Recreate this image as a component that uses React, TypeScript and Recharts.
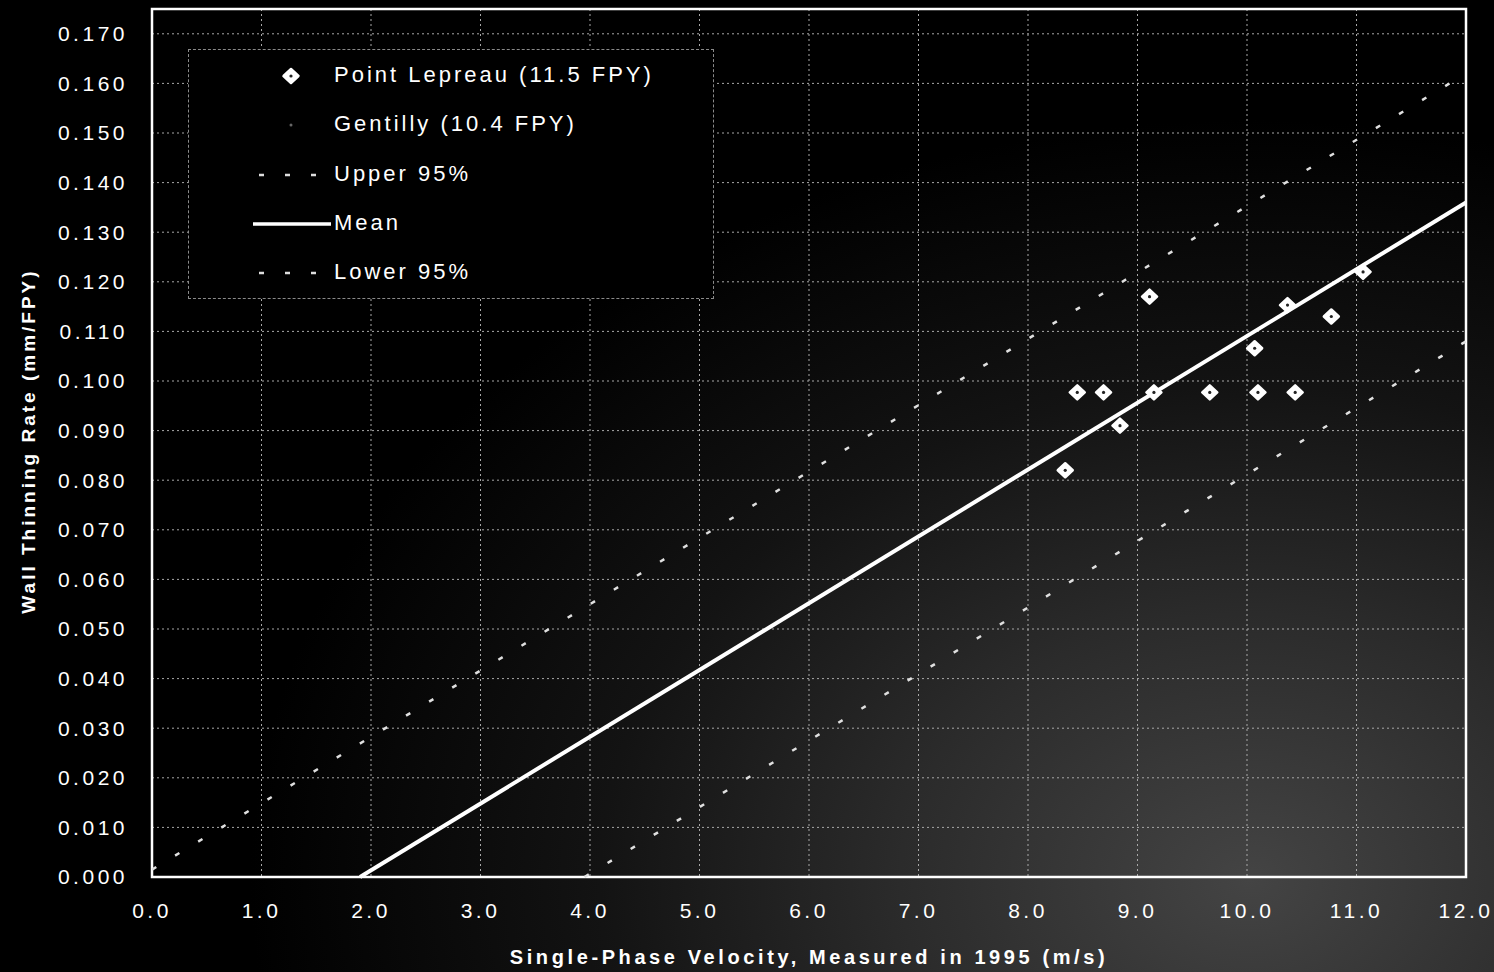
import React from "react";
import { CartesianGrid, Legend, ReferenceArea, Scatter, ScatterChart, XAxis, YAxis } from "recharts";

// tick labels
const xTicks = [0, 1, 2, 3, 4, 5, 6, 7, 8, 9, 10, 11, 12];
const yTicks = [0, 0.01, 0.02, 0.03, 0.04, 0.05, 0.06, 0.07, 0.08, 0.09, 0.1, 0.11, 0.12, 0.13, 0.14, 0.15, 0.16, 0.17];

// Point Lepreau measurements (velocity m/s, thinning mm/FPY)
const lepreauX = [8.34, 8.45, 8.69, 8.84, 9.11, 9.15, 9.66, 10.07, 10.1, 10.37, 10.44, 10.77, 11.06];
const lepreauY = [0.082, 0.0977, 0.0977, 0.091, 0.117, 0.0977, 0.0977, 0.1066, 0.0977, 0.1153, 0.0977, 0.113, 0.122];

// Gentilly: nothing readable in the plot
const gentillyX: number[] = [];
const gentillyY: number[] = [];

// fitted lines
const meanX = [1.9, 12.0];
const meanY = [0, 0.136];
const upperX = [0, 12.0];
const upperY = [0.0015, 0.162];
const lowerX = [3.95, 12.0];
const lowerY = [0, 0.108];

const zip = (xs: number[], ys: number[]) => xs.map((x, i) => ({ x, y: ys[i] }));

const lepreau = zip(lepreauX, lepreauY);
const gentilly = zip(gentillyX, gentillyY);
const mean = zip(meanX, meanY);
const upper = zip(upperX, upperY);
const lower = zip(lowerX, lowerY);

const FONT = "Arial, 'Liberation Sans', sans-serif";

function Diamond(props: any) {
  const { cx, cy } = props;
  if (cx == null || cy == null) return <g />;
  return (
    <g>
      <path
        d={`M${cx},${cy - 7} L${cx + 7.5},${cy} L${cx},${cy + 7} L${cx - 7.5},${cy} Z`}
        fill="#fff"
        stroke="#fff"
        strokeWidth={2.5}
        strokeLinejoin="round"
      />
      <circle cx={cx} cy={cy} r={1.6} fill="#222" />
    </g>
  );
}

function Nothing() {
  return <g />;
}

function LegendBox() {
  const row = (top: number, marker: React.ReactNode, text: string) => (
    <div style={{ position: "absolute", left: 0, top: top - 20, height: 40, width: "100%" }}>
      <svg width={145} height={40} style={{ position: "absolute", left: 0, top: 0 }}>
        {marker}
      </svg>
      <span style={{ position: "absolute", left: 145, top: 6, whiteSpace: "nowrap" }}>{text}</span>
    </div>
  );
  return (
    <div
      style={{
        width: 526,
        height: 250,
        background: "#000",
        border: "1px dashed #8a8a8a",
        boxSizing: "border-box",
        position: "relative",
        fontFamily: FONT,
        fontSize: 22,
        letterSpacing: 3,
        color: "#fff",
        lineHeight: "26px",
      }}
    >
      {row(26, <Diamond cx={102} cy={20} />, "Point Lepreau (11.5 FPY)")}
      {row(75, <circle cx={102} cy={20} r={1.5} fill="#666" />, "Gentilly (10.4 FPY)")}
      {row(
        125,
        <line x1={70} y1={20} x2={132} y2={20} stroke="#ddd" strokeWidth={2.5} strokeDasharray="5 21" />,
        "Upper 95%"
      )}
      {row(174, <line x1={64} y1={20} x2={142} y2={20} stroke="#fff" strokeWidth={3.5} />, "Mean")}
      {row(
        223,
        <line x1={70} y1={20} x2={132} y2={20} stroke="#ddd" strokeWidth={2.5} strokeDasharray="5 21" />,
        "Lower 95%"
      )}
    </div>
  );
}

export default function App() {
  return (
    <div
      style={{
        width: 1494,
        height: 972,
        background:
          "radial-gradient(ellipse 1000px 760px at 1250px 880px, #444 0%, #2b2b2b 35%, #131313 65%, #000 100%)",
        position: "relative",
      }}
    >
      <style>{"body{margin:0;background:#000}"}</style>
      <ScatterChart width={1494} height={972} margin={{ top: 9, right: 28, bottom: 0, left: 0 }}>
        <CartesianGrid stroke="#a8a8a8" strokeDasharray="2 3" strokeWidth={1} />
        <XAxis
          type="number"
          dataKey="x"
          domain={[0, 12]}
          ticks={xTicks}
          tickFormatter={(v: number) => v.toFixed(1)}
          height={95}
          axisLine={{ stroke: "#fff", strokeWidth: 2 }}
          tickLine={false}
          tickSize={6}
          tickMargin={20}
          tick={{ fill: "#fff", fontSize: 21, fontFamily: FONT, letterSpacing: 3.5 } as any}
          label={{
            value: "Single-Phase Velocity, Measured in 1995 (m/s)",
            position: "insideBottom",
            offset: 8,
            fill: "#fff",
            fontSize: 20,
            fontWeight: "bold",
            fontFamily: FONT,
            letterSpacing: 3.6,
          } as any}
        />
        <YAxis
          type="number"
          dataKey="y"
          domain={[0, 0.175]}
          ticks={yTicks}
          tickFormatter={(v: number) => v.toFixed(3)}
          width={152}
          axisLine={{ stroke: "#fff", strokeWidth: 2 }}
          tickLine={false}
          tickSize={6}
          tickMargin={18}
          tick={{ fill: "#fff", fontSize: 21, fontFamily: FONT, letterSpacing: 3.5 } as any}
          label={{
            content: () => (
              <text
                x={28}
                y={441}
                transform="rotate(-90 28 441)"
                textAnchor="middle"
                dominantBaseline="central"
                fill="#fff"
                fontSize={19}
                fontWeight="bold"
                fontFamily={FONT}
                letterSpacing={3}
              >
                Wall Thinning Rate (mm/FPY)
              </text>
            ),
          } as any}
        />
        <ReferenceArea x1={0} x2={12} y1={0} y2={0.175} fill="none" stroke="#fff" strokeWidth={2.5} />
        <Scatter
          name="Upper 95%"
          data={upper}
          line={{ stroke: "#e0e0e0", strokeWidth: 2.5, strokeDasharray: "5 22" }}
          shape={Nothing}
          isAnimationActive={false}
        />
        <Scatter
          name="Lower 95%"
          data={lower}
          line={{ stroke: "#e0e0e0", strokeWidth: 2.5, strokeDasharray: "5 22" }}
          shape={Nothing}
          isAnimationActive={false}
        />
        <Scatter
          name="Mean"
          data={mean}
          line={{ stroke: "#fff", strokeWidth: 4 }}
          shape={Nothing}
          isAnimationActive={false}
        />
        <Scatter name="Gentilly (10.4 FPY)" data={gentilly} fill="#666" isAnimationActive={false} />
        <Scatter name="Point Lepreau (11.5 FPY)" data={lepreau} shape={Diamond} isAnimationActive={false} />
        <Legend
          layout="vertical"
          align="center"
          verticalAlign="middle"
          content={() => <LegendBox />}
          wrapperStyle={{ left: 188, top: 49, width: 526, height: 250 }}
        />
      </ScatterChart>
    </div>
  );
}
